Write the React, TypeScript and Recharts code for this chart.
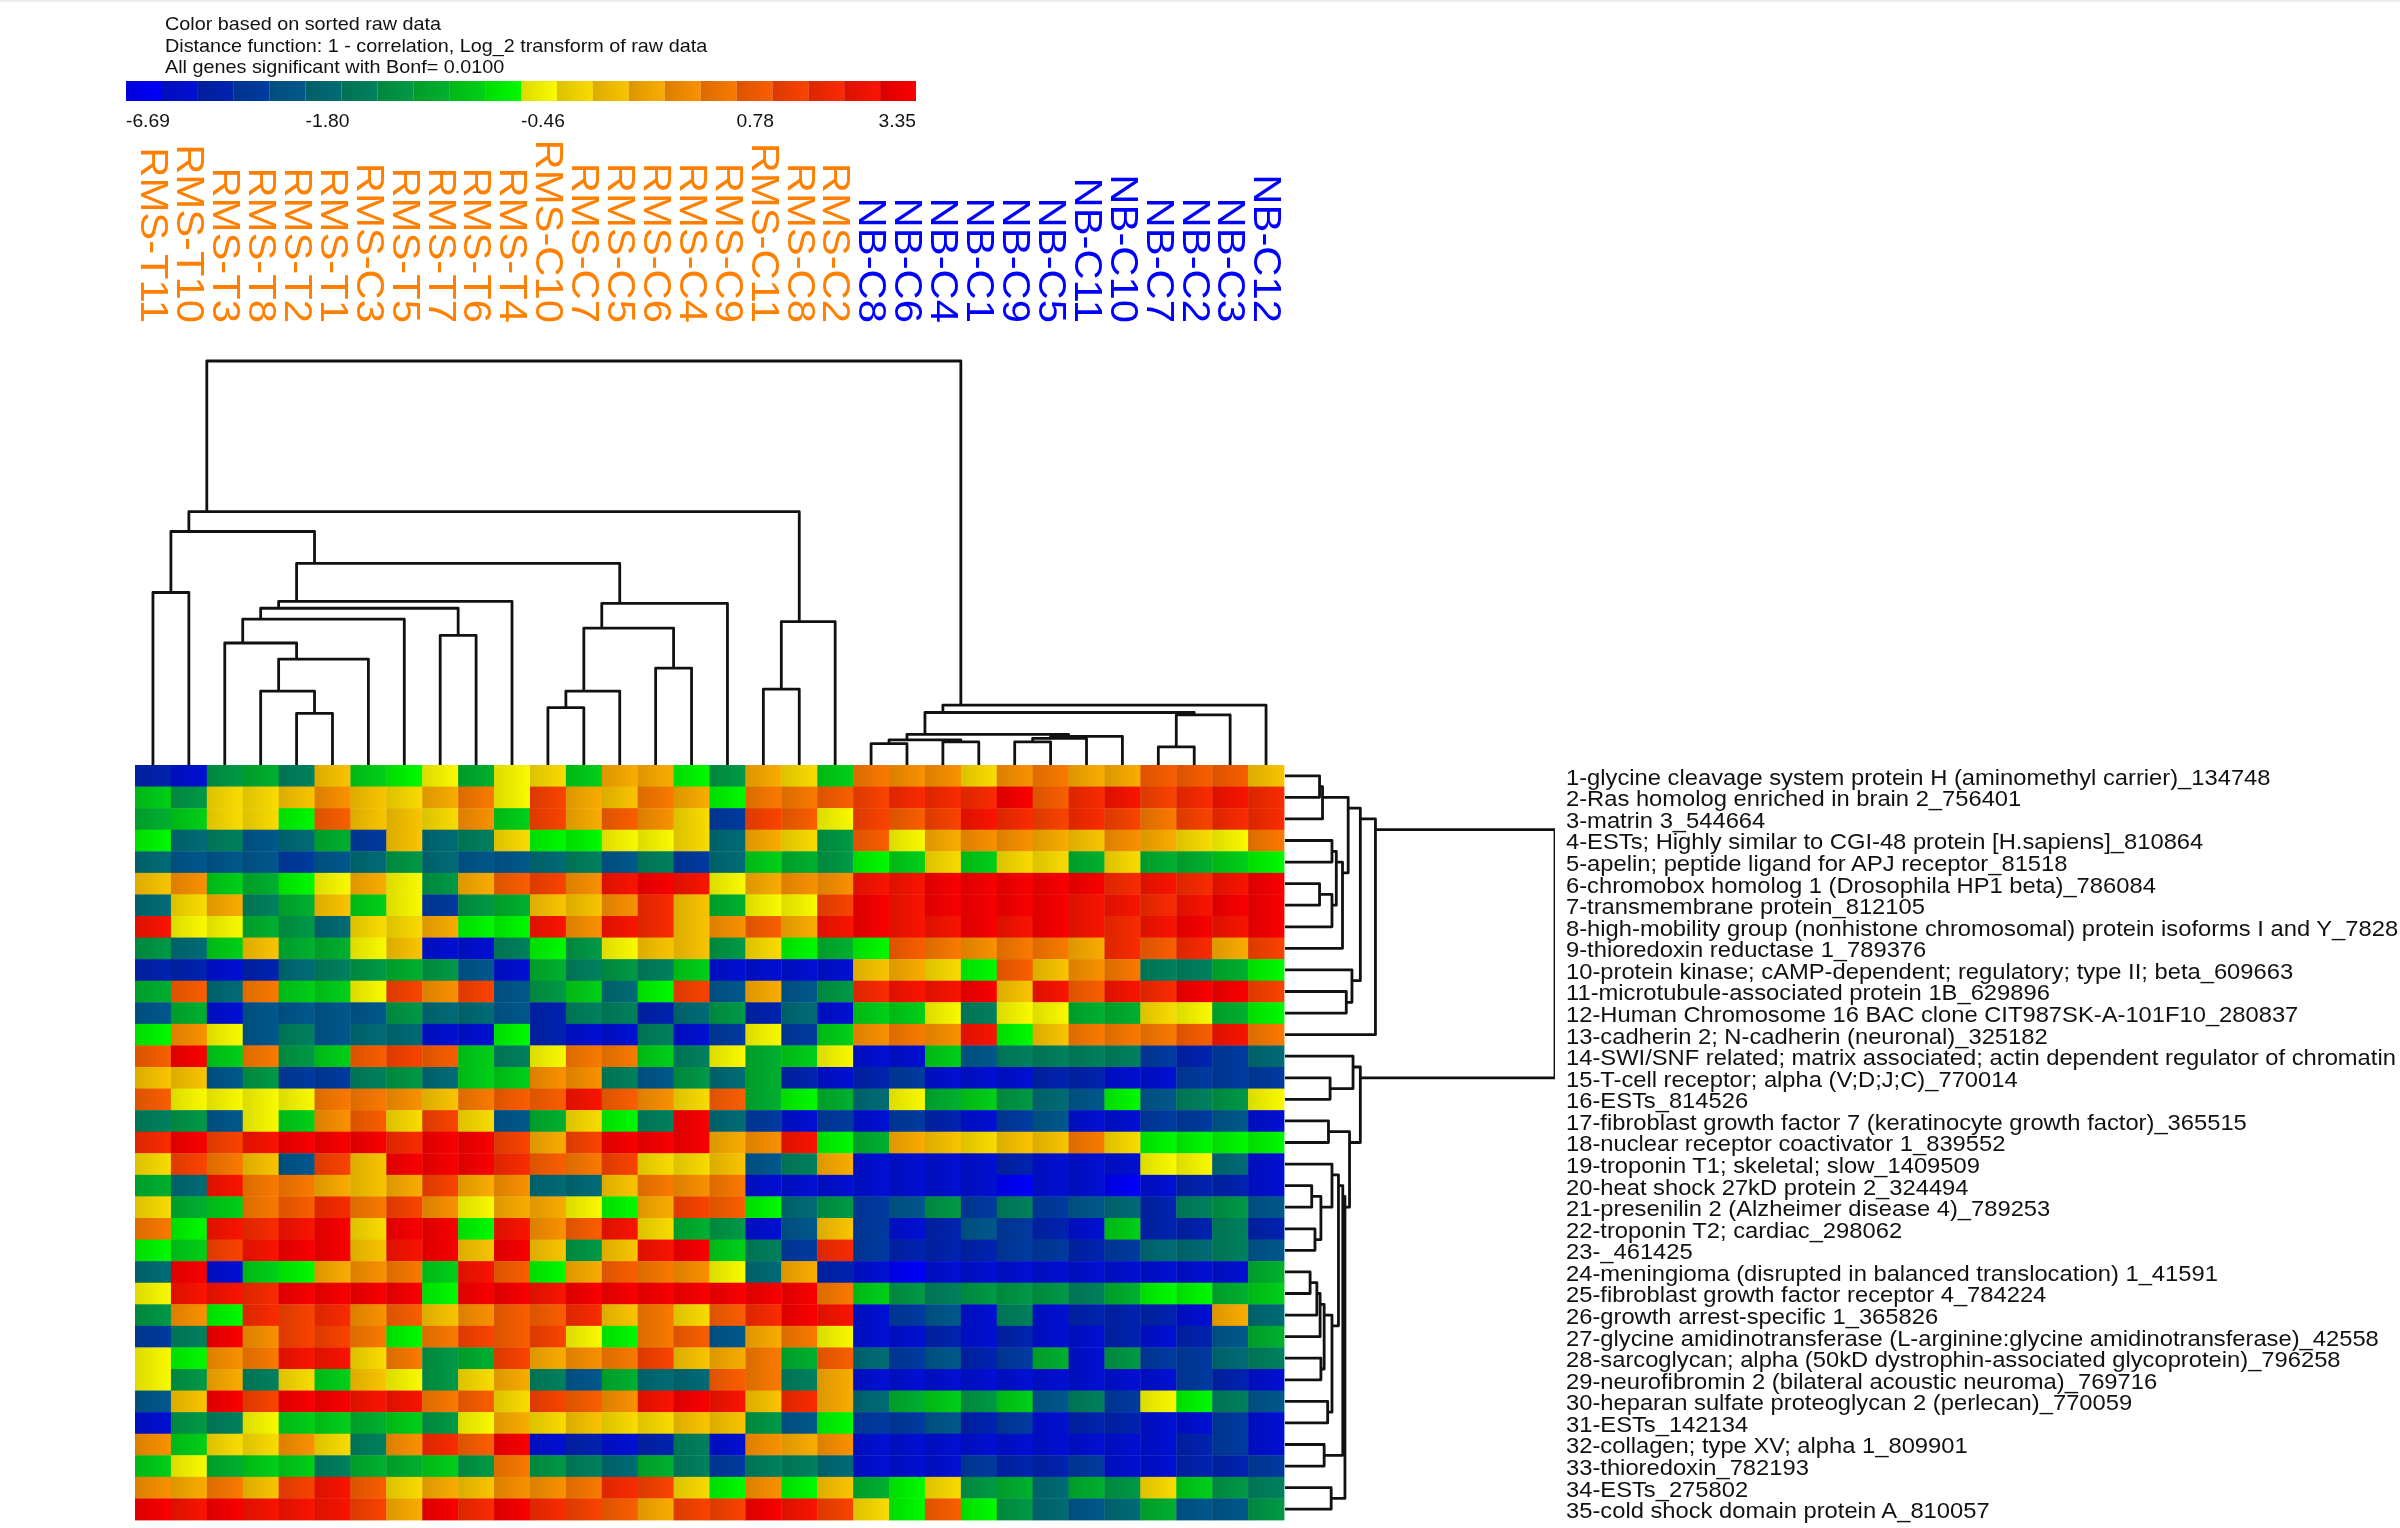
import React from 'react';
import { Bar, BarChart, Cell, Scatter, ScatterChart, XAxis, YAxis } from 'recharts';

const legendNotes = [
  'Color based on sorted raw data',
  'Distance function: 1 - correlation, Log_2 transform of raw data',
  'All genes significant with Bonf= 0.0100',
];
const legendTickSteps = [0, 5, 11, 17, 21];
const legendTickLabels = ['-6.69', '-1.80', '-0.46', '0.78', '3.35'];

// 22 colour steps of the legend, blue through green, then yellow through red
const levelColors = [
  '#0000ff', '#0010d8', '#0024b4', '#003ca4', '#005a90', '#006e78', '#008460', '#009c48', '#00b430', '#00d418', '#00ff00',
  '#ffff00', '#ffe000', '#ffc800', '#ffb000', '#ff9400', '#ff7c00', '#ff6000', '#ff4400', '#ff2c00', '#ff1400', '#ff0000',
];

const columnLabels = [
  'RMS-T11', 'RMS-T10', 'RMS-T3', 'RMS-T8', 'RMS-T2', 'RMS-T1', 'RMS-C3', 'RMS-T5', 'RMS-T7', 'RMS-T6', 'RMS-T4',
  'RMS-C10', 'RMS-C7', 'RMS-C5', 'RMS-C6', 'RMS-C4', 'RMS-C9', 'RMS-C11', 'RMS-C8', 'RMS-C2',
  'NB-C8', 'NB-C6', 'NB-C4', 'NB-C1', 'NB-C9', 'NB-C5', 'NB-C11', 'NB-C10', 'NB-C7', 'NB-C2', 'NB-C3', 'NB-C12',
];

const geneLabels = [
  '1-glycine cleavage system protein H (aminomethyl carrier)_134748',
  '2-Ras homolog enriched in brain 2_756401',
  '3-matrin 3_544664',
  '4-ESTs; Highly similar to CGI-48 protein [H.sapiens]_810864',
  '5-apelin; peptide ligand for APJ receptor_81518',
  '6-chromobox homolog 1 (Drosophila HP1 beta)_786084',
  '7-transmembrane protein_812105',
  '8-high-mobility group (nonhistone chromosomal) protein isoforms I and Y_782811',
  '9-thioredoxin reductase 1_789376',
  '10-protein kinase; cAMP-dependent; regulatory; type II; beta_609663',
  '11-microtubule-associated protein 1B_629896',
  '12-Human Chromosome 16 BAC clone CIT987SK-A-101F10_280837',
  '13-cadherin 2; N-cadherin (neuronal)_325182',
  '14-SWI/SNF related; matrix associated; actin dependent regulator of chromatin',
  '15-T-cell receptor; alpha (V;D;J;C)_770014',
  '16-ESTs_814526',
  '17-fibroblast growth factor 7 (keratinocyte growth factor)_365515',
  '18-nuclear receptor coactivator 1_839552',
  '19-troponin T1; skeletal; slow_1409509',
  '20-heat shock 27kD protein 2_324494',
  '21-presenilin 2 (Alzheimer disease 4)_789253',
  '22-troponin T2; cardiac_298062',
  '23-_461425',
  '24-meningioma (disrupted in balanced translocation) 1_41591',
  '25-fibroblast growth factor receptor 4_784224',
  '26-growth arrest-specific 1_365826',
  '27-glycine amidinotransferase (L-arginine:glycine amidinotransferase)_42558',
  '28-sarcoglycan; alpha (50kD dystrophin-associated glycoprotein)_796258',
  '29-neurofibromin 2 (bilateral acoustic neuroma)_769716',
  '30-heparan sulfate proteoglycan 2 (perlecan)_770059',
  '31-ESTs_142134',
  '32-collagen; type XV; alpha 1_809901',
  '33-thioredoxin_782193',
  '34-ESTs_275802',
  '35-cold shock domain protein A_810057',
];

// colour step of every cell, one line per gene
const cellLevels = [
  [2, 1, 7, 8, 6, 13, 9, 10, 11, 8, 11, 12, 9, 14, 14, 10, 7, 14, 12, 9, 16, 15, 15, 12, 15, 16, 14, 14, 17, 17, 17, 13],
  [9, 7, 12, 12, 13, 15, 13, 12, 14, 16, 11, 18, 14, 13, 16, 14, 10, 16, 16, 17, 18, 19, 19, 19, 21, 17, 19, 20, 18, 19, 20, 19],
  [8, 9, 12, 12, 10, 17, 13, 13, 12, 15, 9, 18, 14, 17, 15, 12, 3, 18, 17, 11, 18, 17, 18, 20, 19, 18, 19, 18, 16, 18, 19, 19],
  [10, 5, 6, 4, 5, 8, 3, 13, 5, 6, 12, 10, 10, 11, 11, 12, 5, 14, 12, 7, 17, 11, 14, 15, 15, 14, 13, 15, 14, 12, 11, 16],
  [5, 4, 4, 4, 3, 4, 5, 7, 5, 4, 4, 5, 6, 4, 6, 3, 5, 9, 8, 7, 10, 9, 12, 9, 12, 12, 8, 12, 8, 8, 9, 10],
  [13, 15, 9, 8, 10, 11, 14, 11, 7, 14, 17, 18, 15, 20, 21, 20, 11, 14, 15, 15, 20, 20, 21, 21, 21, 21, 21, 19, 20, 19, 20, 21],
  [5, 12, 14, 6, 8, 13, 9, 11, 3, 7, 8, 13, 13, 15, 19, 13, 8, 11, 11, 18, 21, 20, 21, 21, 21, 21, 20, 20, 19, 20, 21, 21],
  [20, 11, 11, 8, 7, 5, 12, 12, 14, 10, 10, 20, 15, 20, 19, 13, 15, 17, 14, 20, 21, 20, 20, 21, 20, 21, 20, 19, 20, 21, 20, 21],
  [7, 5, 9, 13, 8, 8, 11, 13, 1, 1, 6, 10, 7, 11, 13, 13, 7, 12, 10, 8, 10, 17, 16, 15, 16, 16, 14, 19, 17, 19, 14, 18],
  [2, 2, 1, 2, 5, 6, 7, 8, 7, 4, 1, 8, 6, 7, 6, 9, 1, 1, 1, 1, 13, 14, 12, 10, 17, 13, 15, 16, 6, 6, 8, 10],
  [8, 17, 5, 16, 9, 9, 11, 18, 15, 18, 4, 7, 9, 5, 10, 18, 4, 14, 4, 7, 19, 20, 20, 21, 13, 20, 17, 20, 19, 21, 21, 18],
  [4, 8, 1, 4, 4, 4, 4, 7, 5, 5, 4, 2, 6, 6, 2, 5, 7, 2, 5, 1, 9, 9, 11, 6, 11, 11, 8, 8, 12, 11, 8, 10],
  [10, 15, 11, 4, 6, 4, 5, 5, 1, 1, 10, 2, 1, 1, 6, 1, 3, 11, 3, 9, 15, 16, 15, 20, 10, 13, 16, 16, 16, 17, 20, 16],
  [17, 21, 9, 16, 7, 9, 17, 18, 17, 9, 6, 11, 16, 16, 9, 6, 11, 8, 9, 11, 1, 1, 9, 4, 6, 6, 6, 6, 3, 2, 3, 5],
  [13, 13, 4, 7, 3, 3, 6, 7, 5, 9, 9, 15, 15, 6, 4, 7, 5, 8, 2, 1, 2, 3, 1, 1, 1, 2, 2, 1, 1, 3, 3, 3],
  [17, 11, 11, 11, 11, 16, 16, 15, 13, 16, 17, 17, 20, 17, 15, 12, 17, 8, 10, 8, 5, 11, 8, 9, 7, 5, 4, 10, 4, 6, 7, 11],
  [6, 7, 4, 11, 9, 15, 17, 12, 18, 12, 4, 8, 12, 10, 6, 21, 5, 3, 1, 3, 1, 3, 2, 1, 3, 4, 1, 1, 3, 3, 4, 1],
  [19, 21, 18, 20, 21, 21, 21, 19, 21, 21, 18, 14, 18, 21, 21, 21, 14, 15, 20, 10, 8, 14, 13, 12, 13, 13, 16, 12, 10, 10, 10, 10],
  [12, 18, 16, 13, 4, 18, 13, 21, 21, 21, 19, 17, 16, 18, 12, 12, 13, 4, 6, 14, 1, 1, 1, 1, 2, 1, 1, 1, 11, 11, 5, 1],
  [8, 5, 20, 16, 16, 14, 13, 14, 18, 14, 15, 5, 5, 13, 16, 15, 16, 1, 1, 1, 1, 1, 1, 1, 0, 1, 1, 0, 1, 2, 2, 1],
  [12, 8, 9, 16, 17, 19, 16, 18, 15, 11, 14, 14, 11, 10, 14, 18, 17, 10, 5, 7, 3, 4, 7, 3, 6, 3, 4, 5, 2, 6, 7, 4],
  [16, 10, 20, 19, 20, 21, 12, 21, 21, 10, 20, 15, 17, 20, 12, 8, 7, 1, 4, 13, 3, 1, 2, 4, 3, 2, 1, 9, 2, 2, 6, 2],
  [10, 9, 18, 20, 21, 21, 13, 20, 21, 13, 21, 13, 7, 13, 20, 21, 9, 6, 3, 19, 3, 2, 2, 2, 3, 3, 2, 3, 5, 5, 6, 4],
  [5, 21, 1, 9, 10, 14, 15, 16, 9, 20, 17, 10, 14, 17, 16, 15, 11, 5, 14, 2, 1, 0, 1, 1, 1, 1, 1, 1, 1, 1, 1, 8],
  [11, 20, 20, 19, 21, 21, 21, 21, 10, 21, 21, 20, 21, 21, 21, 21, 21, 21, 21, 16, 9, 7, 6, 7, 7, 7, 6, 8, 10, 10, 8, 9],
  [7, 15, 10, 19, 18, 19, 15, 17, 13, 15, 17, 17, 19, 13, 16, 12, 17, 19, 21, 20, 1, 3, 4, 1, 6, 1, 2, 2, 2, 1, 14, 5],
  [3, 6, 21, 15, 18, 18, 16, 10, 16, 18, 17, 18, 11, 10, 16, 17, 4, 14, 16, 11, 1, 1, 2, 1, 2, 1, 1, 2, 1, 2, 4, 8],
  [11, 10, 15, 16, 20, 20, 12, 16, 7, 8, 18, 14, 15, 16, 18, 13, 14, 16, 8, 17, 5, 3, 4, 2, 3, 8, 1, 7, 3, 3, 5, 6],
  [11, 7, 14, 6, 12, 9, 13, 11, 7, 12, 14, 6, 4, 8, 5, 5, 17, 16, 6, 14, 1, 1, 1, 1, 1, 1, 1, 1, 1, 3, 2, 1],
  [4, 13, 21, 18, 21, 21, 20, 20, 16, 17, 12, 18, 17, 15, 20, 21, 20, 13, 19, 14, 5, 8, 9, 7, 9, 4, 6, 3, 11, 10, 6, 4],
  [1, 7, 6, 11, 9, 9, 8, 9, 7, 11, 14, 12, 13, 12, 12, 13, 13, 7, 4, 10, 3, 3, 4, 2, 3, 1, 2, 2, 1, 1, 3, 1],
  [15, 9, 12, 12, 15, 12, 6, 15, 19, 17, 21, 1, 2, 1, 2, 6, 1, 15, 14, 15, 1, 1, 1, 1, 1, 1, 1, 1, 1, 2, 3, 1],
  [9, 11, 8, 9, 9, 6, 8, 8, 9, 7, 16, 7, 6, 5, 8, 6, 3, 6, 6, 5, 1, 1, 1, 3, 2, 2, 3, 1, 1, 2, 2, 3],
  [15, 14, 16, 13, 18, 20, 17, 12, 14, 13, 15, 15, 16, 19, 18, 12, 10, 15, 10, 13, 8, 10, 12, 7, 8, 5, 8, 7, 12, 9, 7, 6],
  [21, 20, 21, 20, 20, 20, 18, 14, 21, 19, 21, 19, 18, 17, 14, 18, 18, 21, 20, 18, 12, 10, 17, 10, 7, 5, 4, 5, 8, 4, 4, 7],
];

// merge tables: [left node, right node, distance]; a node above the leaf count is an earlier merge
const columnMerges = [
  [0, 1, 0.427], [4, 5, 0.128], [3, 33, 0.183], [34, 6, 0.262], [2, 35, 0.302], [36, 7, 0.361], [8, 9, 0.321],
  [37, 38, 0.388], [39, 10, 0.405], [11, 12, 0.142], [41, 13, 0.183], [14, 15, 0.24], [42, 43, 0.339], [44, 16, 0.4],
  [40, 45, 0.499], [32, 46, 0.578], [17, 18, 0.188], [48, 19, 0.355], [47, 49, 0.627], [20, 21, 0.053], [22, 23, 0.057],
  [51, 52, 0.062], [24, 25, 0.057], [54, 26, 0.066], [55, 27, 0.071], [53, 56, 0.076], [28, 29, 0.045], [58, 30, 0.124],
  [57, 59, 0.13], [60, 31, 0.148], [50, 61, 1],
];

const geneMerges = [
  [0, 1, 0.128], [35, 2, 0.139], [3, 4, 0.174], [5, 6, 0.128], [38, 7, 0.174], [37, 39, 0.19], [40, 8, 0.213],
  [36, 41, 0.234], [10, 11, 0.227], [9, 43, 0.248], [42, 44, 0.279], [45, 12, 0.335], [14, 15, 0.167], [13, 47, 0.252],
  [16, 17, 0.161], [19, 20, 0.099], [21, 22, 0.111], [50, 51, 0.133], [18, 52, 0.174], [23, 24, 0.093], [54, 25, 0.118],
  [55, 26, 0.13], [27, 28, 0.133], [56, 57, 0.145], [29, 30, 0.158], [58, 59, 0.174], [53, 60, 0.198], [31, 32, 0.145],
  [61, 62, 0.214], [33, 34, 0.171], [63, 64, 0.222], [49, 65, 0.239], [48, 66, 0.279], [46, 67, 1],
];

const HEAT_LEFT = 135;
const HEAT_TOP = 765;
const HEAT_WIDTH = 1149;
const HEAT_HEIGHT = 755;
const SIDE_PAD = 24;
const LABEL_FONT = '"Liberation Sans", Arial, sans-serif';

const cellWidth = HEAT_WIDTH / columnLabels.length;
const cellHeight = HEAT_HEIGHT / geneLabels.length;

const cells = cellLevels.flatMap((levels, row) =>
  levels.map((level, col) => ({ col: col + 0.5, row: row + 0.5, level }))
);

// each bracket is drawn as one little line series; a parent sits half a leaf past its first child
function buildBrackets(merges: number[][], leafCount: number) {
  const nodes: { pos: number; dist: number }[] = [];
  for (let i = 0; i < leafCount; i++) nodes.push({ pos: i + 0.5, dist: 0 });
  return merges.map(([a, b, dist]) => {
    const left = nodes[a];
    const right = nodes[b];
    nodes.push({ pos: left.pos + 0.5, dist });
    return [
      { pos: left.pos, dist: left.dist },
      { pos: left.pos, dist },
      { pos: right.pos, dist },
      { pos: right.pos, dist: right.dist },
    ];
  });
}

const columnBrackets = buildBrackets(columnMerges, columnLabels.length);
const geneBrackets = buildBrackets(geneMerges, geneLabels.length);

const legendData = levelColors.map((_, i) => ({ step: i, span: 1 }));

function darken(hex: string, k: number) {
  const part = (i: number) => Math.round(parseInt(hex.slice(i, i + 2), 16) * k);
  return `rgb(${part(1)},${part(3)},${part(5)})`;
}

function gradients(prefix: string) {
  return (
    <defs>
      {levelColors.map((c, i) => (
        <linearGradient key={i} id={`${prefix}${i}`} x1="0" y1="0" x2="1" y2="0">
          <stop offset="0%" stopColor={darken(c, 0.86)} />
          <stop offset="100%" stopColor={darken(c, 0.98)} />
        </linearGradient>
      ))}
    </defs>
  );
}

function HeatCell(props: any) {
  const { cx, cy, payload } = props;
  return (
    <rect
      x={cx - cellWidth / 2}
      y={cy - cellHeight / 2}
      width={cellWidth + 0.4}
      height={cellHeight + 0.4}
      fill={`url(#heat${payload.level})`}
    />
  );
}

function ColumnTick({ x, payload }: any) {
  const index = Math.floor(payload.value);
  return (
    <text
      transform={`translate(${x + 2} 323) rotate(90) scale(1.1 1)`}
      dy="0.36em"
      textAnchor="end"
      fontFamily={LABEL_FONT}
      fontSize={38}
      fill={index < 20 ? '#ff8000' : '#0000ff'}
    >
      {columnLabels[index]}
    </text>
  );
}

function GeneTick({ y, payload }: any) {
  return (
    <text
      transform={`translate(${1566 - HEAT_LEFT} ${y + 1}) scale(1.08 1)`}
      dy="0.36em"
      fontFamily={LABEL_FONT}
      fontSize={22}
      fill="#111"
    >
      {geneLabels[Math.floor(payload.value)]}
    </text>
  );
}

function LegendTick({ x, payload, index }: any) {
  const band = 790 / levelColors.length;
  const last = index === legendTickSteps.length - 1;
  return (
    <text
      transform={`translate(${last ? x + band / 2 : x - band / 2} 46) scale(1.1 1)`}
      textAnchor={last ? 'end' : 'start'}
      fontFamily={LABEL_FONT}
      fontSize={17.5}
      fill="#111"
    >
      {legendTickLabels[legendTickSteps.indexOf(payload.value)]}
    </text>
  );
}

const noDot = () => null;
const bracketLine = { stroke: '#111', strokeWidth: 2.8, strokeLinejoin: 'round' as const };
const place = (left: number, top: number): React.CSSProperties => ({ position: 'absolute', left, top });

export default function App() {
  return (
    <div style={{ position: 'absolute', left: 0, top: 0, width: 2400, height: 1528, background: '#fff', overflow: 'hidden', filter: 'blur(0.6px)' }}>
      <div style={{ ...place(0, 0), width: 2400, height: 2, background: '#eee' }} />

      <svg style={place(0, 0)} width={1000} height={80}>
        {legendNotes.map((note, i) => (
          <text key={i} transform={`translate(165 ${30 + i * 21.5}) scale(1.1 1)`} fontFamily={LABEL_FONT} fontSize={18} fill="#111">
            {note}
          </text>
        ))}
      </svg>

      <div style={place(126, 81)}>
        <BarChart width={790} height={60} data={legendData} margin={{ top: 0, right: 0, bottom: 0, left: 0 }} barCategoryGap={0}>
          {gradients('legend')}
          <XAxis dataKey="step" ticks={legendTickSteps} interval={0} height={40} tickLine={false} axisLine={false} tick={<LegendTick />} />
          <YAxis hide domain={[0, 1]} />
          <Bar dataKey="span" isAnimationActive={false}>
            {legendData.map((d) => (
              <Cell key={d.step} fill={`url(#legend${d.step})`} />
            ))}
          </Bar>
        </BarChart>
      </div>

      {/* column dendrogram, with the sample names as its top axis */}
      <div style={place(HEAT_LEFT - SIDE_PAD, 0)}>
        <ScatterChart
          width={HEAT_WIDTH + SIDE_PAD * 2}
          height={HEAT_TOP}
          margin={{ top: 0, right: SIDE_PAD, bottom: 0, left: SIDE_PAD }}
        >
          <XAxis
            type="number"
            dataKey="pos"
            orientation="top"
            domain={[0, columnLabels.length]}
            ticks={columnLabels.map((_, i) => i + 0.5)}
            interval={0}
            height={361}
            tickLine={false}
            axisLine={false}
            tick={<ColumnTick />}
          />
          <YAxis type="number" dataKey="dist" domain={[0, 1]} hide />
          {columnBrackets.map((points, i) => (
            <Scatter key={i} data={points} line={bracketLine} shape={noDot} isAnimationActive={false} />
          ))}
        </ScatterChart>
      </div>

      {/* heat map, with the gene names as its right axis */}
      <div style={place(HEAT_LEFT, HEAT_TOP)}>
        <ScatterChart
          width={2400 - HEAT_LEFT}
          height={HEAT_HEIGHT + 8}
          margin={{ top: 0, right: 0, bottom: 8, left: 0 }}
        >
          {gradients('heat')}
          <XAxis type="number" dataKey="col" domain={[0, columnLabels.length]} hide />
          <YAxis
            type="number"
            dataKey="row"
            orientation="right"
            reversed
            domain={[0, geneLabels.length]}
            ticks={geneLabels.map((_, i) => i + 0.5)}
            interval={0}
            width={2400 - HEAT_LEFT - HEAT_WIDTH}
            tickLine={false}
            axisLine={false}
            tick={<GeneTick />}
          />
          <Scatter data={cells} shape={<HeatCell />} isAnimationActive={false} />
        </ScatterChart>
      </div>

      {/* gene dendrogram */}
      <div style={place(HEAT_LEFT + HEAT_WIDTH + 1, HEAT_TOP)}>
        <ScatterChart width={270} height={HEAT_HEIGHT} margin={{ top: 0, right: 0, bottom: 0, left: 0 }}>
          <XAxis type="number" dataKey="dist" domain={[0, 1]} hide />
          <YAxis type="number" dataKey="pos" reversed domain={[0, geneLabels.length]} hide />
          {geneBrackets.map((points, i) => (
            <Scatter key={i} data={points} line={bracketLine} shape={noDot} isAnimationActive={false} />
          ))}
        </ScatterChart>
      </div>
    </div>
  );
}
